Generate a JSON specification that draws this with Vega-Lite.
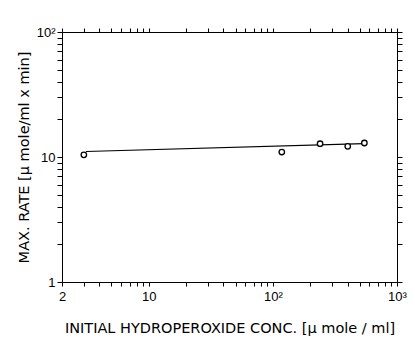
{
  "$schema": "https://vega.github.io/schema/vega-lite/v6.json",
  "width": 335,
  "height": 250,
  "autosize": {"type": "none"},
  "padding": {"left": 62, "top": 32, "right": 18, "bottom": 59},
  "background": "white",
  "config": {
    "view": {"stroke": null},
    "axis": {
      "domainColor": "black",
      "grid": false,
      "labelColor": "black",
      "titleColor": "black",
      "labelFont": "Liberation Sans",
      "titleFont": "DejaVu Sans",
      "labelFontSize": 13,
      "titleFontSize": 14.5,
      "titleFontWeight": "normal"
    }
  },
  "datasets": {
    "pts": [
      {"conc": 3.0, "rate": 10.4},
      {"conc": 118, "rate": 10.96},
      {"conc": 240, "rate": 12.77},
      {"conc": 401, "rate": 12.18},
      {"conc": 546, "rate": 12.94}
    ],
    "fit": [
      {"conc": 3.12, "rate": 11.07},
      {"conc": 540, "rate": 12.8}
    ]
  },
  "resolve": {"axis": {"x": "independent", "y": "independent"}},
  "layer": [
    {
      "data": {"name": "fit"},
      "mark": {"type": "line", "color": "black", "strokeWidth": 1.1},
      "encoding": {
        "x": {
          "field": "conc", "type": "quantitative",
          "scale": {"type": "log", "domain": [2, 1000], "nice": false},
          "axis": {
            "orient": "top", "labels": false, "title": null,
            "values": [2,3,4,5,6,7,8,9,10,20,30,40,50,60,70,80,90,100,200,300,400,500,600,700,800,900,1000],
            "tickColor": "black",
            "tickSize": 4
          }
        },
        "y": {
          "field": "rate", "type": "quantitative",
          "scale": {"type": "log", "domain": [1, 100], "nice": false},
          "axis": {
            "orient": "right", "labels": false, "title": null,
            "values": [1,2,3,4,5,6,7,8,9,10,20,30,40,50,60,70,80,90,100],
            "tickColor": "black",
            "tickSize": 5
          }
        }
      }
    },
    {
      "data": {"name": "pts"},
      "mark": {"type": "point", "shape": "circle", "size": 30, "filled": false, "fill": "white", "fillOpacity": 1, "stroke": "black", "strokeWidth": 1.3, "opacity": 1},
      "encoding": {
        "x": {
          "field": "conc", "type": "quantitative",
          "scale": {"type": "log", "domain": [2, 1000], "nice": false},
          "axis": {
            "orient": "bottom",
            "title": "INITIAL  HYDROPEROXIDE  CONC. [μ mole / ml]",
            "titlePadding": 18,
            "values": [2,3,4,5,6,7,8,9,10,20,30,40,50,60,70,80,90,100,200,300,400,500,600,700,800,900,1000],
            "labelExpr": "datum.value == 2 ? '2' : datum.value == 10 ? '10' : datum.value == 100 ? '10²' : datum.value == 1000 ? '10³' : ''",
            "labelFlush": false,
            "labelOverlap": false,
            "labelPadding": 4,
            "tickColor": "black",
            "tickSize": 4
          }
        },
        "y": {
          "field": "rate", "type": "quantitative",
          "scale": {"type": "log", "domain": [1, 100], "nice": false},
          "axis": {
            "orient": "left",
            "title": "MAX.  RATE  [μ mole/ml x min]",
            "titlePadding": 5,
            "values": [1,2,3,4,5,6,7,8,9,10,20,30,40,50,60,70,80,90,100],
            "labelExpr": "datum.value == 1 ? '1' : datum.value == 10 ? '10' : datum.value == 100 ? '10²' : ''",
            "labelFlush": false,
            "labelOverlap": false,
            "labelPadding": 2,
            "tickColor": "black",
            "tickSize": 5
          }
        }
      }
    }
  ]
}
